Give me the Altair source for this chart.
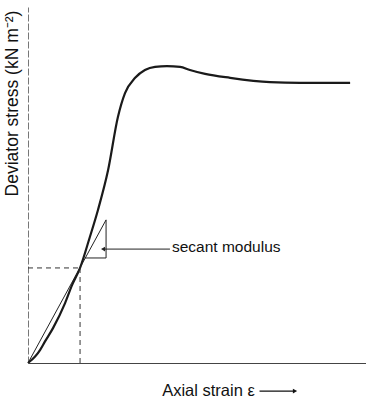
import altair as alt
import pandas as pd

# Stress-strain curve (arbitrary units)
strain = [0, 2.1, 3.6, 5.0, 7.4, 11.0, 13.0, 15.4, 18.3, 20.7, 23.7, 26.6, 28.7, 31.7,
          34.6, 37.6, 41.1, 45.0, 47.9, 52.4, 59.8, 71.6, 80.5, 95.3]
stress = [0, 1.8, 3.7, 6.0, 9.8, 16.9, 21.8, 26.7, 35.4, 43.0, 54.2, 69.1, 75.8, 80.1,
          82.3, 83.2, 83.4, 83.2, 82.3, 81.2, 80.1, 78.9, 78.7, 78.7]

# Secant line from origin, and its slope triangle
secant_x = [0, 23.1]
secant_y = [0, 40.2]
tri_x = [16.9, 23.1, 23.1]
tri_y = [29.5, 29.5, 40.2]

# Reference point (dashed guides)
ref_x = 15.4
ref_y = 26.7

# Annotation
label_text = "secant modulus"
label_x = 42.6
label_y = 32.6
pointer_x = [42.0, 22.2]
pointer_y = [32.0, 32.0]

# x-axis title arrow
xarrow_x = [68.5, 79.0]
xarrow_y = [-7.9, -7.9]

FONT = "Liberation Sans"
xs = alt.Scale(domain=[0, 100], nice=False, zero=False)
ys = alt.Scale(domain=[0, 100], nice=False, zero=False)

x_axis = alt.Axis(
    title="Axial strain ε", ticks=False, labels=False, grid=False,
    domainColor="#444", domainWidth=1.2,
    titleFont=FONT, titleFontSize=16.5, titleFontWeight="normal",
    titleColor="#111", titleX=180, titleY=27, titleBaseline="middle",
    titleAlign="center")
y_axis = alt.Axis(
    title="Deviator stress (kN m⁻²)", ticks=False, labels=False, grid=False,
    domainColor="#777", domainWidth=1, domainDash=[7, 2],
    titleFont=FONT, titleFontSize=17.5, titleFontWeight="normal",
    titleColor="#111", titleX=-16, titleY=96, titleBaseline="middle",
    titleAlign="center", titleAngle=270)

X = alt.X("x:Q", scale=xs, axis=x_axis)
Y = alt.Y("y:Q", scale=ys, axis=y_axis)

curve_df = pd.DataFrame({"x": strain, "y": stress})
curve = alt.Chart(curve_df).mark_line(
    color="#1a1a1a", strokeWidth=2.2, interpolate="monotone"
).encode(x=X, y=Y)

secant_df = pd.DataFrame({"x": secant_x, "y": secant_y})
secant = alt.Chart(secant_df).mark_line(color="#222", strokeWidth=1).encode(x=X, y=Y)

tri_df = pd.DataFrame({"x": tri_x, "y": tri_y, "o": [0, 1, 2]})
tri = alt.Chart(tri_df).mark_line(color="#222", strokeWidth=1).encode(
    x=X, y=Y, order="o:O")

hdash_df = pd.DataFrame({"x": [0, ref_x], "y": [ref_y, ref_y]})
hdash = alt.Chart(hdash_df).mark_line(color="#333", strokeWidth=1, strokeDash=[5, 4]).encode(x=X, y=Y)
vdash_df = pd.DataFrame({"x": [ref_x, ref_x], "y": [0, ref_y]})
vdash = alt.Chart(vdash_df).mark_line(color="#333", strokeWidth=1, strokeDash=[5, 4]).encode(x=X, y=Y)

ptr_df = pd.DataFrame({"x": pointer_x, "y": pointer_y})
ptr = alt.Chart(ptr_df).mark_line(color="#222", strokeWidth=1).encode(x=X, y=Y)
ptr_head = alt.Chart(pd.DataFrame({"x": [pointer_x[1]], "y": [pointer_y[1]]})).mark_point(
    shape="triangle-left", filled=True, color="#222", size=22, opacity=1).encode(x=X, y=Y)

label = alt.Chart(pd.DataFrame({"x": [label_x], "y": [label_y], "t": [label_text]})).mark_text(
    align="left", baseline="middle", font=FONT, fontSize=15.5, color="#111").encode(
    x=X, y=Y, text="t:N")

xarr_df = pd.DataFrame({"x": xarrow_x, "y": xarrow_y})
xarr = alt.Chart(xarr_df).mark_line(color="#111", strokeWidth=1.2).encode(x=X, y=Y)
xarr_head = alt.Chart(pd.DataFrame({"x": [xarrow_x[1]], "y": [xarrow_y[1]]})).mark_point(
    shape="triangle-right", filled=True, color="#111", size=24, opacity=1).encode(x=X, y=Y)

chart = alt.layer(
    curve, hdash, vdash, secant, tri, ptr, ptr_head, label, xarr, xarr_head
).properties(
    width=338, height=356,
    padding={"left": 28, "top": 7, "right": 0, "bottom": 37},
    autosize=alt.AutoSizeParams(type="none"),
    background="white",
).configure_view(stroke=None)

chart.save("out.html", embed_options={"renderer": "svg", "actions": False})
